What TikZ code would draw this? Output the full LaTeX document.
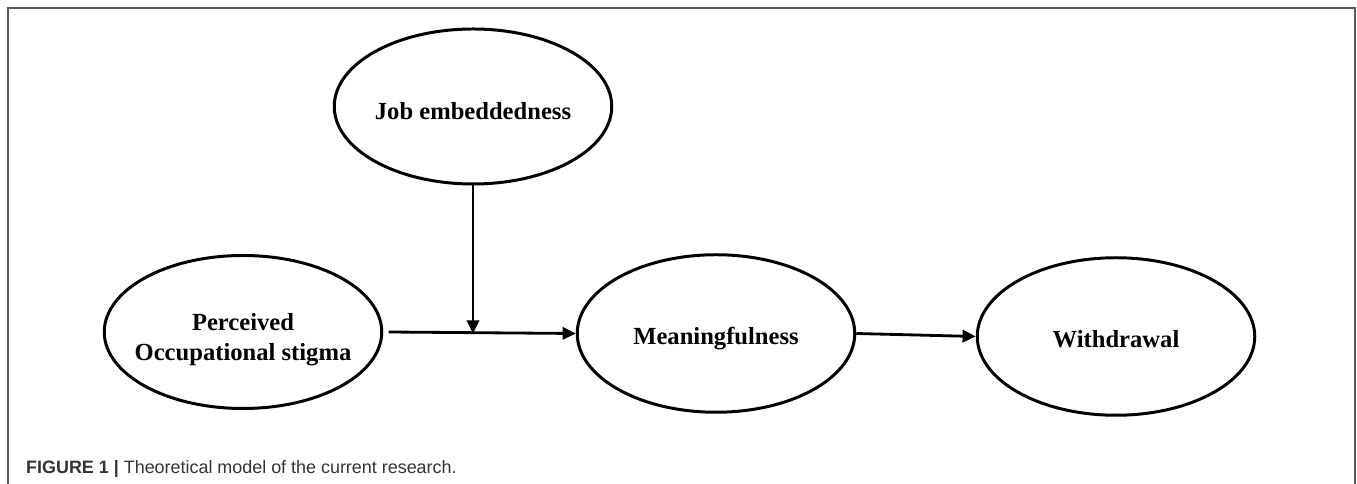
\documentclass[tikz,border=0pt]{standalone}
\usepackage{fontspec}
\setmainfont{Liberation Serif}
\newfontfamily\capfont{Liberation Sans}
\usepackage{tikz}
\usetikzlibrary{shapes.geometric,arrows.meta}
\newcommand{\ovalwd}{1.7pt}

\begin{document}
\begin{tikzpicture}[
    oval/.style={draw, ellipse, line width=\ovalwd, inner sep=-10pt,
      minimum width=5.55cm, minimum height=3.1cm, align=center, text height=14.5pt,
      font=\fontsize{14}{17.5}\selectfont\bfseries},
    link/.style={line width=1.6pt, -{Triangle[length=7.5pt,width=7pt]}}]
        \useasboundingbox (0,0) rectangle (27.14,9.68);
        % frame round the figure
        \draw[line width=.6pt, black!65] (.16,-.2) -- (.16,9.52) -- (27.1,9.52) -- (27.1,-.2);

        \node (job) at (9.46,7.55) [oval] {Job embeddedness};
        \node (perc) at (4.86,3.04) [oval, minimum height=3.06cm, text height=36pt] {Perceived\\Occupational stigma};
        \node (mean) at (14.32,3.01) [oval, minimum height=3.15cm, text height=16pt] {Meaningfulness};
        \node (withd) at (22.32,2.95) [oval, minimum height=3.15cm, text height=13pt] {Withdrawal};
        \coordinate (mod) at (job.south |- mean.west);

        \draw[link] ([xshift=3pt]perc.east) -- (mean.west);
        \draw[link] (job.south) -- (mod);
        \draw[link] (mean.east) -- (withd.west);

            \node (cap) at (.4,.3) [anchor=west, text=black!80, font=\capfont\fontsize{10.2}{12}\selectfont]
              {\textbf{FIGURE 1 |} Theoretical model of the current research.};
\end{tikzpicture}
\end{document}
